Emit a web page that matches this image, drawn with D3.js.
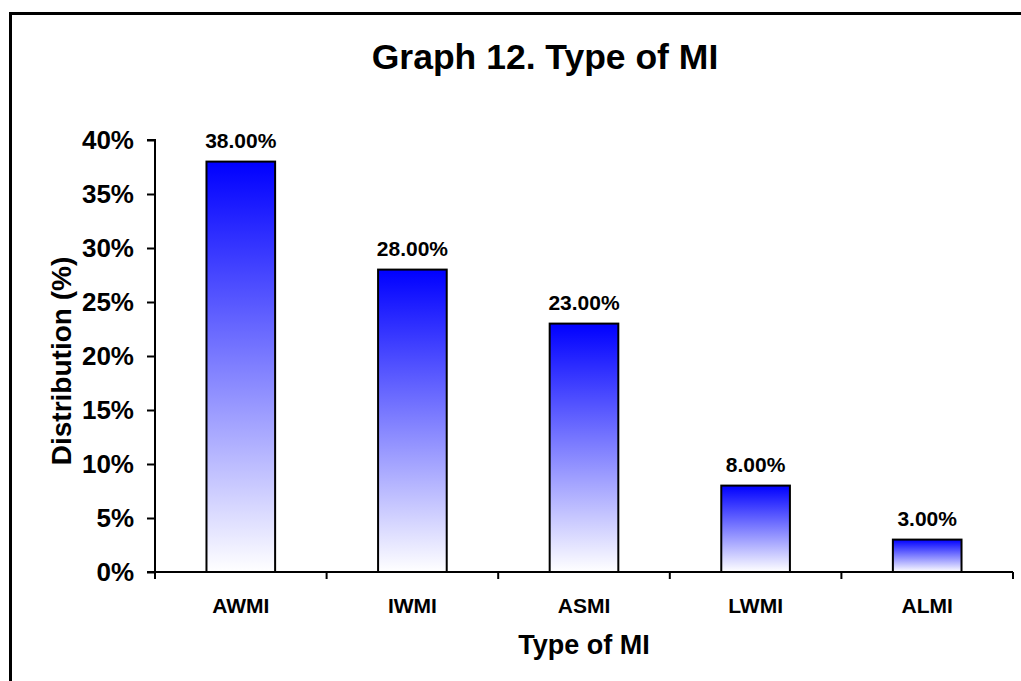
<!DOCTYPE html>
<html>
<head>
<meta charset="utf-8">
<script src="https://cdn.jsdelivr.net/npm/d3@7"></script>
<style>
  html, body { margin: 0; padding: 0; background: #fff; }
  svg { display: block; }
  text { font-family: "Liberation Sans", Arial, sans-serif; font-weight: bold; fill: #000; }
</style>
</head>
<body>
<svg id="chart" width="1021" height="681"></svg>
<script>
// Chart data
const categories = ["AWMI", "IWMI", "ASMI", "LWMI", "ALMI"];
const values = [38, 28, 23, 8, 3];
const yTicks = [0, 5, 10, 15, 20, 25, 30, 35, 40];
const title = "Graph 12. Type of MI";
const xTitle = "Type of MI";
const yTitle = "Distribution (%)";

const svg = d3.select("#chart");
const W = 1021, H = 681;
const plot = { left: 155, right: 1013, top: 140, bottom: 572 };

// Outer frame (runs past the right and bottom edges)
svg.append("rect")
  .attr("x", 10.5).attr("y", 13.5)
  .attr("width", W + 20).attr("height", H + 20)
  .attr("fill", "#fff").attr("stroke", "#000").attr("stroke-width", 3);

const x = d3.scaleBand().domain(categories).range([plot.left, plot.right]).paddingInner(0).paddingOuter(0);
const y = d3.scaleLinear().domain([0, 40]).range([plot.bottom, plot.top]);

// Vertical gradient for the bars: blue at top fading to white
const defs = svg.append("defs");
const grad = defs.append("linearGradient")
  .attr("id", "barGrad")
  .attr("x1", 0).attr("y1", 0).attr("x2", 0).attr("y2", 1);
grad.append("stop").attr("offset", "0%").attr("stop-color", "#0000ff");
grad.append("stop").attr("offset", "100%").attr("stop-color", "#ffffff");

// Title
svg.append("text")
  .attr("x", 545).attr("y", 69)
  .attr("text-anchor", "middle")
  .style("font-size", "35.5px")
  .text(title);

// Bars
const barW = x.bandwidth() * 0.4;
svg.append("g").selectAll("rect")
  .data(values)
  .join("rect")
  .attr("x", (d, i) => x(categories[i]) + (x.bandwidth() - barW) / 2)
  .attr("y", d => y(d))
  .attr("width", barW)
  .attr("height", d => y(0) - y(d))
  .attr("fill", "url(#barGrad)")
  .attr("stroke", "#000")
  .attr("stroke-width", 2);

// Value labels
svg.append("g").selectAll("text")
  .data(values)
  .join("text")
  .attr("x", (d, i) => x(categories[i]) + x.bandwidth() / 2)
  .attr("y", d => y(d) - 14)
  .attr("text-anchor", "middle")
  .style("font-size", "21px")
  .text(d => d.toFixed(2) + "%");

// Y axis
const yAxis = svg.append("g")
  .attr("transform", `translate(${plot.left},0)`)
  .call(d3.axisLeft(y).tickValues(yTicks).tickSize(8).tickPadding(13).tickFormat(d => d + "%"));
yAxis.select(".domain").attr("stroke", "#000").attr("stroke-width", 2).attr("d", `M-8,${plot.top}H0V${plot.bottom}`);
yAxis.selectAll(".tick line").attr("stroke", "#000").attr("stroke-width", 2);
yAxis.selectAll(".tick text")
  .style("font-size", "26px")
  .style("font-family", "'Liberation Sans', Arial, sans-serif")
  .style("font-weight", "bold")
  .attr("fill", "#000");

// X axis with ticks between categories
const xAxis = svg.append("g")
  .attr("transform", `translate(0,${plot.bottom})`);
xAxis.append("line")
  .attr("x1", plot.left - 8).attr("x2", plot.right)
  .attr("stroke", "#000").attr("stroke-width", 2);
const boundaries = categories.map(c => x(c)).concat([plot.right]);
xAxis.selectAll(".xtick")
  .data(boundaries)
  .join("line")
  .attr("class", "xtick")
  .attr("x1", d => d).attr("x2", d => d)
  .attr("y1", 0).attr("y2", 7)
  .attr("stroke", "#000").attr("stroke-width", 2);
xAxis.selectAll(".xlabel")
  .data(categories)
  .join("text")
  .attr("class", "xlabel")
  .attr("x", d => x(d) + x.bandwidth() / 2)
  .attr("y", 41)
  .attr("text-anchor", "middle")
  .style("font-size", "21px")
  .text(d => d);

// Axis titles
svg.append("text")
  .attr("x", 584).attr("y", 654)
  .attr("text-anchor", "middle")
  .style("font-size", "27px")
  .text(xTitle);

svg.append("text")
  .attr("transform", `translate(71,361) rotate(-90)`)
  .attr("text-anchor", "middle")
  .style("font-size", "28px")
  .text(yTitle);
</script>
</body>
</html>
